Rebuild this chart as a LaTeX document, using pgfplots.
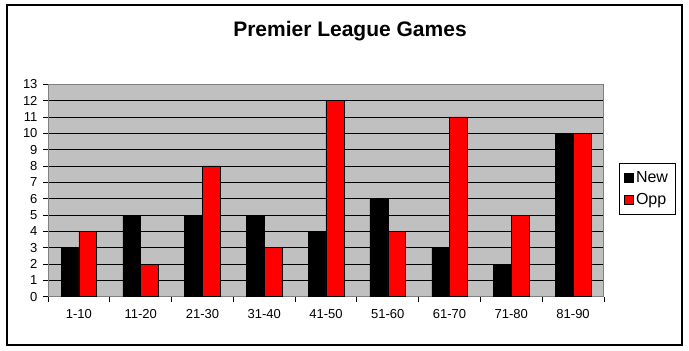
\documentclass[border=0pt]{standalone}
\usepackage{pgfplots}
\pgfplotsset{compat=1.18}
\usepackage{fontspec}
\setmainfont{Liberation Sans}
\definecolor{xlgray}{HTML}{C0C0C0}
\definecolor{xlborder}{HTML}{808080}
\definecolor{xlred}{HTML}{FF0000}
\begin{document}
\begin{tikzpicture}[x=1pt,y=1pt]
\fill[white] (0,0) rectangle (689,351);
\draw[black, line width=1.5pt] (7,6) rectangle (682,346);
\node[font=\bfseries\fontsize{21}{25}\selectfont] at (350,320) {Premier League Games};
\begin{axis}[
  at={(48pt,54.3pt)}, anchor=south west,
  scale only axis, width=556pt, height=212.4pt,
  xmin=-0.5, xmax=8.5, ymin=0, ymax=13,
  ybar=0pt, bar width=17.8pt,
  axis background/.style={fill=xlgray},
  axis line style={draw=xlborder, line width=1pt},
  ytick={0,...,13},
  ymajorgrids, major grid style={black, line width=0.9pt},
  xtick={0,...,8},
  xticklabels={1-10,11-20,21-30,31-40,41-50,51-60,61-70,71-80,81-90},
  major x tick style={draw=none},
  minor xtick={-0.5,0.5,...,8.5},
  minor tick length=5pt, major tick length=5pt,
  tick align=outside,
  tick style={black, line width=0.8pt},
  xtick pos=bottom, ytick pos=left,
  /pgf/number format/assume math mode=true,
  tick label style={font=\fontsize{13}{15}\selectfont},
  xticklabel style={yshift=-4pt},
  yticklabel style={xshift=-2pt},
  legend style={at={(1.027,0.63)}, anchor=north west, draw=black, line width=0.8pt,
    font=\fontsize{16}{19}\selectfont, inner xsep=5pt, inner ysep=6pt, row sep=6pt},
  legend image code/.code={\draw[#1, draw=black, line width=0.6pt] (0pt,-4.5pt) rectangle (9pt,4.5pt);},
  legend cell align=left,
]
\addplot[fill=black, draw=black] coordinates {(0,3) (1,5) (2,5) (3,5) (4,4) (5,6) (6,3) (7,2) (8,10)};
\addplot[fill=xlred, draw=black] coordinates {(0,4) (1,2) (2,8) (3,3) (4,12) (5,4) (6,11) (7,5) (8,10)};
\legend{New,Opp}
\end{axis}
\end{tikzpicture}
\end{document}
